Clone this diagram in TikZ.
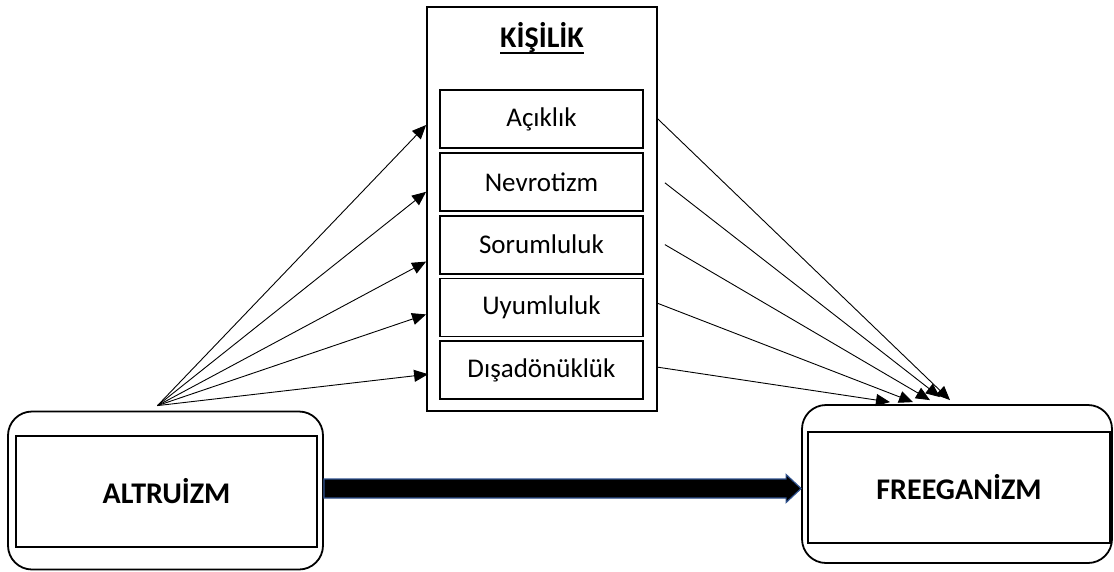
\documentclass[tikz,border=0pt]{standalone}
\usepackage{fontspec}
\setmainfont{Carlito}
\usepackage{tikz}
\definecolor{okmavi}{RGB}{47, 82, 143}
\usetikzlibrary{arrows.meta, positioning, calc}
\newcommand{\altcizgi}[1]{\setbox0\hbox{#1}\rlap{\rule[-6.5pt]{\wd0}{1.8pt}}\box0}

\begin{document}
\begin{tikzpicture}[
    x=1pt, y=-1pt,
    outerbox/.style={rectangle, draw=black, line width=1.8pt, rounded corners=24pt, minimum width=315pt, minimum height=158pt},
    innerbox/.style={rectangle, draw=black, line width=1.8pt, minimum width=301pt, minimum height=111pt, font=\fontsize{30}{36}\selectfont\bfseries},
    trait/.style={rectangle, draw=black, line width=1.8pt, minimum width=203pt, minimum height=58pt, font=\fontsize{27}{32}\selectfont},
    arrow/.style={-{Triangle[length=14pt, width=12pt]}, line width=0.9pt, black},
    bigarrow/.style={draw=okmavi, fill=black, line width=1.2pt}
]
    \useasboundingbox (0,0) rectangle (1114,571);

    \node[rectangle, draw=black, line width=1.8pt, minimum width=230pt, minimum height=404pt] (kisilik) at (542,209) {};
    \node[font=\fontsize{30}{36}\selectfont\bfseries] (baslik) at (542,38) {\altcizgi{KİŞİLİK}};
    \node[trait] (acik) at (541.5,119) {Açıklık};
    \node[trait, below=3pt of acik] (nevro) {Nevrotizm};
    \node[trait, below=3pt of nevro] (soru) {Sorumluluk};
    \node[trait, below=3pt of soru] (uyum) {Uyumluluk};
    \node[trait, below=3pt of uyum] (disa) {Dışadönüklük};

    \node[outerbox] (altruizm) at (165.5,490.5) {};
    \node[innerbox] (altruizmic) at (166.5,491.5) {ALTRUİZM};
    \node[outerbox, minimum width=310pt] (freeganizm) at (957,484) {};
    \node[innerbox, minimum width=302pt] (freeganizmic) at (959,487.5) {FREEGANİZM};

    \coordinate (kaynak) at ($(altruizm.north)+(-8,-5)$);
    \draw[arrow] (kaynak) -- ($(kisilik.west |- acik)+(0,6)$);
    \draw[arrow] (kaynak) -- ($(kisilik.west |- nevro)+(0,10)$);
    \draw[arrow] (kaynak) -- ($(kisilik.west |- soru)+(0,17)$);
    \draw[arrow] (kaynak) -- ($(kisilik.west |- uyum)+(0,7)$);
    \draw[arrow] (kaynak) -- ($(kisilik.west |- disa)+(2,4)$);

    \draw[arrow] (kisilik.east |- acik) -- ($(freeganizm.north)+(-7,-4)$);
    \draw[arrow] ($(kisilik.east |- nevro)+(7,1)$) -- ($(freeganizm.north)+(-17,-7)$);
    \draw[arrow] ($(kisilik.east |- soru)+(7,0)$) -- ($(freeganizm.north)+(-27,-4)$);
    \draw[arrow] ($(kisilik.east |- uyum)+(0,-4)$) -- ($(freeganizm.north)+(-44,-2)$);
    \draw[arrow] ($(kisilik.east |- disa)+(0,-3)$) -- ($(freeganizm.north)+(-67,-2)$);

    \coordinate (oks) at ($(altruizm.east)+(0,-2)$);
    \coordinate (oke) at (freeganizm.west |- oks);
    \draw[bigarrow] ($(oks)+(0,-9.5)$) -- ($(oke)+(-15,-9.5)$) -- ($(oke)+(-15,-14)$) -- (oke)
        -- ($(oke)+(-15,14)$) -- ($(oke)+(-15,9.5)$) -- ($(oks)+(0,9.5)$) -- cycle;
\end{tikzpicture}
\end{document}
